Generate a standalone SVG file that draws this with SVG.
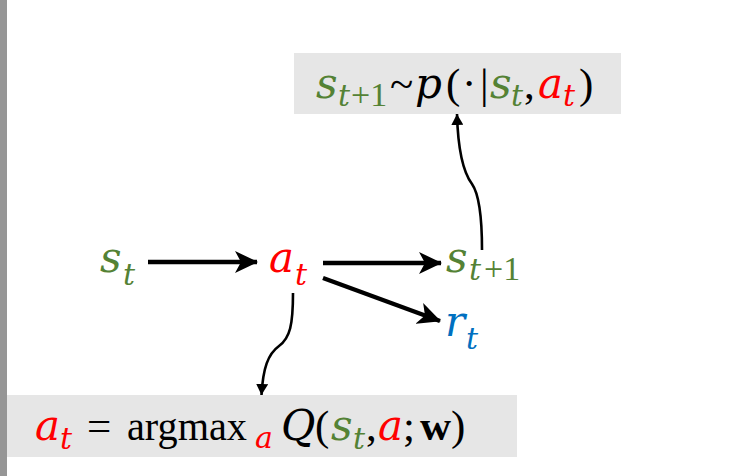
<svg xmlns="http://www.w3.org/2000/svg" width="742" height="476" viewBox="0 0 742 476">
<defs>
<style>
.m{font-family:"DejaVu Serif","Liberation Serif",serif;font-size:42px;font-style:italic;}
.u{font-family:"Liberation Serif","DejaVu Serif",serif;font-size:43px;font-style:normal;}
.m.sub{font-size:30px;}
.u.sub{font-size:34px;}
.g{fill:#548235;}
.r{fill:#FF0000;}
.b{fill:#0070C0;}
.k{fill:#000000;}
.box{fill:#E6E6E6;}
.thick{fill:none;stroke:#000;stroke-width:4.5;}
.thin{fill:none;stroke:#000;stroke-width:2.6;}
</style>
<marker id="big" markerUnits="userSpaceOnUse" markerWidth="24" markerHeight="22" refX="22" refY="11" orient="auto" viewBox="0 0 24 22">
<path d="M0,0 L23,11 L0,22 L6,11 Z" fill="#000"/>
</marker>
<marker id="small" markerUnits="userSpaceOnUse" markerWidth="12" markerHeight="12" refX="11" refY="6" orient="auto" viewBox="0 0 12 12">
<path d="M0,0 L11,6 L0,12 Z" fill="#000"/>
</marker>
</defs>
<rect x="0" y="0" width="7" height="476" fill="#969696"/>

<g id="top-box">
<rect class="box" x="294" y="53" width="327" height="61"/>
<text class="m g" x="316" y="98">s</text>
<text class="m g sub" x="338" y="106">t</text>
<text class="u g sub" x="351" y="106">+1</text>
<text class="u k" x="390" y="98">~</text>
<text class="m k" x="415" y="98">p</text>
<text class="u k" x="446" y="98">(</text>
<text class="u k" x="462" y="98">·</text>
<text class="u k" x="480" y="98">|</text>
<text class="m g" x="490" y="98">s</text>
<text class="m g sub" x="511" y="106">t</text>
<text class="u k" x="524" y="98">,</text>
<text class="m r" x="538" y="98">a</text>
<text class="m r sub" x="563" y="106">t</text>
<text class="u k" x="579" y="98">)</text>
</g>

<g id="bottom-box">
<rect class="box" x="7" y="395" width="510" height="62"/>
<text class="m r" x="35" y="440">a</text>
<text class="m r sub" x="60" y="449">t</text>
<text class="u k" x="87" y="440">=</text>
<text class="u k" x="127" y="440" textLength="120" lengthAdjust="spacingAndGlyphs">argmax</text>
<text class="m r sub" x="255" y="448">a</text>
<text class="m k" x="281" y="440">Q</text>
<text class="u k" x="315" y="440">(</text>
<text class="m g" x="331" y="440">s</text>
<text class="m g sub" x="353" y="449">t</text>
<text class="u k" x="366" y="440">,</text>
<text class="m r" x="378" y="440">a</text>
<text class="u k" x="403" y="440">;</text>
<text class="u k" x="420" y="440" font-weight="bold">w</text>
<text class="u k" x="451" y="440">)</text>
</g>

<g id="node-st">
<text class="m g" x="100" y="272">s</text>
<text class="m g sub" x="123" y="285">t</text>
</g>
<g id="node-at">
<text class="m r" x="269" y="272">a</text>
<text class="m r sub" x="295" y="285">t</text>
</g>
<g id="node-st1">
<text class="m g" x="446" y="272">s</text>
<text class="m g sub" x="469" y="280">t</text>
<text class="u g sub" x="484" y="280">+1</text>
</g>
<g id="node-rt">
<text class="m b" x="445" y="336">r</text>
<text class="m b sub" x="466" y="349">t</text>
</g>

<g id="connectors">
<line class="thick" x1="148" y1="262" x2="257" y2="262" marker-end="url(#big)"/>
<line class="thick" x1="323" y1="263" x2="441" y2="263" marker-end="url(#big)"/>
<line class="thick" x1="323" y1="278" x2="440" y2="321" marker-end="url(#big)"/>
<path class="thin" d="M293,293 C293,325 290,338 279,346 C268,354 263,368 261.5,395" marker-end="url(#small)"/>
<path class="thin" d="M482,250 C482,218 479,194 472,184 C463,172 458,152 457,114" marker-end="url(#small)"/>
</g>
</svg>
